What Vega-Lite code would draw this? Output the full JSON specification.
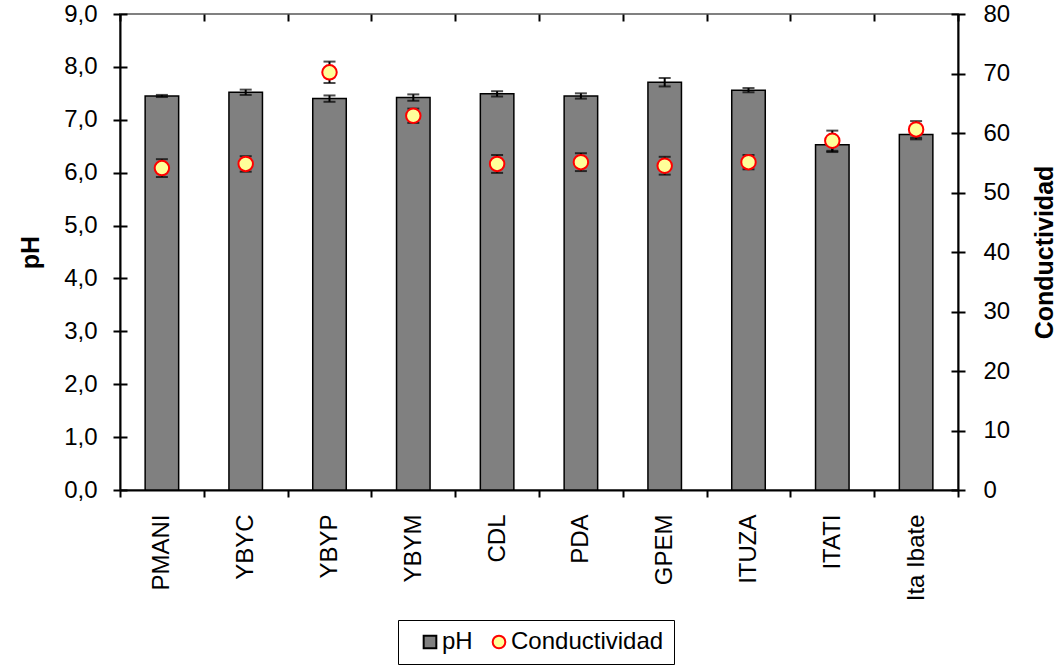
{
  "$schema": "https://vega.github.io/schema/vega-lite/v6.json",
  "width": 838,
  "height": 476,
  "autosize": {"type": "none"},
  "padding": {"left": 120, "top": 14, "right": 102, "bottom": 179},
  "background": "white",
  "config": {
    "font": "Liberation Sans",
    "view": {"stroke": "#808080", "strokeWidth": 2},
    "axis": {
      "domainColor": "black",
      "domainWidth": 2,
      "tickColor": "black",
      "tickWidth": 2,
      "tickSize": 7,
      "labelFont": "Liberation Sans",
      "labelFontSize": 24,
      "labelColor": "black",
      "titleFont": "Liberation Sans",
      "titleFontSize": 25,
      "titleFontWeight": "bold",
      "titleColor": "black",
      "gridColor": "black",
      "gridWidth": 2,
      "gridDash": [7, 3000],
      "gridOpacity": 1
    },
    "legend": {
      "orient": "none",
      "legendX": 278,
      "legendY": 606,
      "direction": "horizontal",
      "title": null,
      "strokeColor": "black",
      "fillColor": "white",
      "padding": 10,
      "labelFont": "Liberation Sans",
      "labelFontSize": 24,
      "labelColor": "black",
      "symbolSize": 160,
      "symbolStrokeWidth": 2,
      "symbolOpacity": 1,
      "symbolOffset": 10,
      "columnPadding": 4,
      "labelOffset": 0
    }
  },
  "data": {
    "values": [
      {"sitio": "PMANI", "pH": 7.45, "pH_err": 0.02, "cond": 54.1, "cond_err": 1.5},
      {"sitio": "YBYC", "pH": 7.52, "pH_err": 0.05, "cond": 54.8, "cond_err": 1.3},
      {"sitio": "YBYP", "pH": 7.40, "pH_err": 0.06, "cond": 70.2, "cond_err": 1.8},
      {"sitio": "YBYM", "pH": 7.42, "pH_err": 0.06, "cond": 62.9, "cond_err": 1.2},
      {"sitio": "CDL", "pH": 7.49, "pH_err": 0.05, "cond": 54.8, "cond_err": 1.5},
      {"sitio": "PDA", "pH": 7.45, "pH_err": 0.05, "cond": 55.1, "cond_err": 1.5},
      {"sitio": "GPEM", "pH": 7.71, "pH_err": 0.08, "cond": 54.5, "cond_err": 1.5},
      {"sitio": "ITUZA", "pH": 7.56, "pH_err": 0.04, "cond": 55.1, "cond_err": 1.2},
      {"sitio": "ITATI", "pH": 6.53, "pH_err": 0.14, "cond": 58.7, "cond_err": 1.7},
      {"sitio": "Ita Ibate", "pH": 6.72, "pH_err": 0.09, "cond": 60.6, "cond_err": 1.4}
    ]
  },
  "layer": [
    {
      "layer": [
        {
          "mark": {"type": "bar", "width": {"band": 0.4}, "fill": "#808080", "stroke": "black", "strokeWidth": 1.5},
          "encoding": {
            "x": {
              "field": "sitio",
              "type": "nominal",
              "sort": null,
              "scale": {"paddingInner": 0, "paddingOuter": 0},
              "axis": {
                "title": null,
                "labelAngle": -90,
                "tickBand": "extent",
                "grid": true,
                "labelPadding": 17
              }
            },
            "y": {
              "field": "pH",
              "type": "quantitative",
              "scale": {"domain": [0, 9], "nice": false},
              "axis": {
                "title": "pH",
                "orient": "left",
                "values": [0, 1, 2, 3, 4, 5, 6, 7, 8, 9],
                "labelExpr": "replace(format(datum.value, '.1f'), '.', ',')",
                "grid": true,
                "labelPadding": 16,
                "titleX": -90,
                "titleY": 238,
                "titleAngle": -90,
                "titleAlign": "center",
                "titleBaseline": "middle"
              }
            }
          }
        },
        {
          "mark": {"type": "errorbar", "color": "black", "thickness": 2, "ticks": {"size": 12}},
          "encoding": {
            "x": {"field": "sitio", "type": "nominal", "sort": null},
            "y": {"field": "pH", "type": "quantitative", "title": "pH"},
            "yError": {"field": "pH_err"}
          }
        }
      ]
    },
    {
      "layer": [
        {
          "mark": {"type": "errorbar", "color": "black", "thickness": 2, "ticks": {"size": 12}},
          "encoding": {
            "x": {"field": "sitio", "type": "nominal", "sort": null},
            "y": {"field": "cond", "type": "quantitative", "title": "Conductividad"},
            "yError": {"field": "cond_err"}
          }
        },
        {
          "mark": {"type": "point", "filled": true, "size": 210, "strokeWidth": 2, "opacity": 1},
          "encoding": {
            "x": {"field": "sitio", "type": "nominal", "sort": null},
            "y": {
              "field": "cond",
              "type": "quantitative",
              "scale": {"domain": [0, 80], "nice": false},
              "axis": {
                "title": "Conductividad",
                "orient": "right",
                "values": [0, 10, 20, 30, 40, 50, 60, 70, 80],
                "grid": true,
                "labelPadding": 18,
                "titleX": 86,
                "titleY": 238,
                "titleAngle": -90,
                "titleAlign": "center",
                "titleBaseline": "middle"
              }
            },
            "fill": {
              "datum": "Conductividad",
              "scale": {"domain": ["pH", "Conductividad"], "range": ["#808080", "#FFFF99"]}
            },
            "stroke": {
              "datum": "Conductividad",
              "scale": {"domain": ["pH", "Conductividad"], "range": ["#000000", "#FF0000"]}
            },
            "shape": {
              "datum": "Conductividad",
              "scale": {"domain": ["pH", "Conductividad"], "range": ["square", "circle"]}
            }
          }
        }
      ]
    }
  ],
  "resolve": {"scale": {"y": "independent"}}
}
